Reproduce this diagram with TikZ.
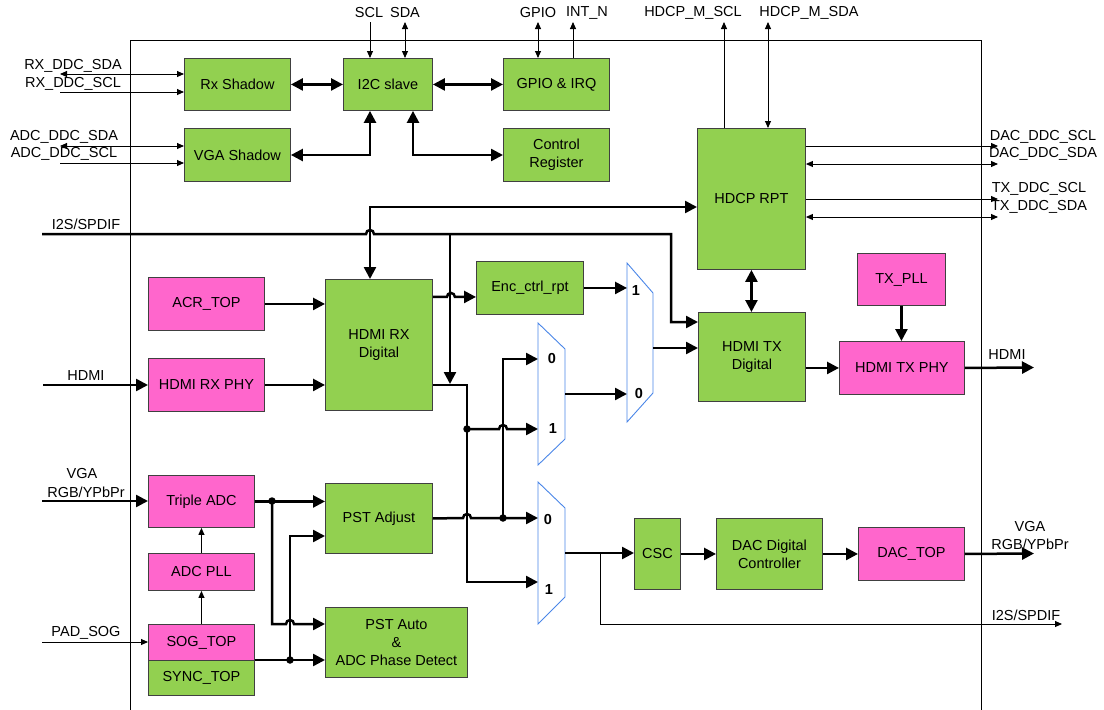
\documentclass[tikz,border=0pt]{standalone}
\usepackage{fontspec}
\setmainfont{Liberation Sans}
\usetikzlibrary{arrows.meta}
\definecolor{gr}{HTML}{92D050}
\definecolor{pk}{HTML}{FF66CC}
\definecolor{bd}{HTML}{404040}
\definecolor{mx}{HTML}{4A86E8}
\newcommand\fsz{\fontsize{14.5}{18}\selectfont}
\tikzset{
  tn/.tip={Triangle[length=7pt,width=6pt]},
  tk/.tip={Triangle[length=12pt,width=12pt]},
}
\newcommand\blkk[7]{\node[#2, minimum width={(#5-#3)*1pt}, minimum height={(#6-#4)*1pt}] (#1) at (#3,#4) {#7};}
\begin{document}
\begin{tikzpicture}[x=1pt,y=-1pt, font=\fsz,
  blk/.style={draw=bd, line width=0.9pt, inner sep=0pt, align=center, anchor=north west},
  gbox/.style={blk, fill=gr},
  pbox/.style={blk, fill=pk},
  thn/.style={line width=0.9pt},
  thk/.style={line width=2.5pt},
  mux/.style={draw=mx, line width=0.9pt, fill=white},
  lbl/.style={inner sep=0pt, align=center},
  jdot/.style={circle, fill=black, inner sep=0pt, minimum size=7.5pt},
  ml/.style={inner sep=0pt, font=\fsz\bfseries}
]
\useasboundingbox (0,0) rectangle (1104,710);

% frame
\draw[line width=1pt] (130,715) -- (130,40) -- (981,40) -- (981,715);

% blocks
\blkk{rxs}{gbox}{184}{58}{290}{110}{Rx Shadow}
\blkk{vgas}{gbox}{184}{128}{290}{181}{VGA Shadow}
\blkk{i2c}{gbox}{343}{58}{432}{110}{I2C slave}
\blkk{gpio}{gbox}{503}{58}{609}{110}{GPIO \& IRQ}
\blkk{ctrl}{gbox}{503}{128}{609}{181}{Control\\Register}
\blkk{hdcp}{gbox}{697}{128}{805}{269}{HDCP RPT}
\blkk{txpll}{pbox}{857}{253}{945}{305}{TX\_PLL}
\blkk{txphy}{pbox}{839}{341}{964}{394}{HDMI TX PHY}
\blkk{txd}{gbox}{698}{312}{805}{401}{HDMI TX\\Digital}
\blkk{enc}{gbox}{476}{261}{583}{314}{Enc\_ctrl\_rpt}
\blkk{rxd}{gbox}{325}{279}{432}{410}{HDMI RX\\Digital}
\blkk{acr}{pbox}{148}{277}{264}{330}{ACR\_TOP}
\blkk{rxphy}{pbox}{148}{358}{264}{411}{HDMI RX PHY}
\blkk{tadc}{pbox}{148}{475}{254}{527}{Triple ADC}
\blkk{adcpll}{pbox}{148}{553}{254}{590}{ADC PLL}
\blkk{sog}{pbox}{148}{624}{254}{660}{SOG\_TOP}
\blkk{sync}{gbox}{148}{660}{254}{695}{SYNC\_TOP}
\blkk{pstadj}{gbox}{325}{483}{432}{553}{PST Adjust}
\blkk{pstauto}{gbox}{325}{607}{467}{677}{PST Auto\\\&\\ADC Phase Detect}
\blkk{csc}{gbox}{634}{518}{680}{589}{CSC}
\blkk{dacdc}{gbox}{716}{518}{822}{589}{DAC Digital\\Controller}
\blkk{dactop}{pbox}{858}{527}{964}{580}{DAC\_TOP}

% muxes
\draw[mux] (538,323) -- (565,349) -- (565,439) -- (538,465) -- cycle;
\draw[mux] (627,263) -- (653,293) -- (653,393) -- (627,422) -- cycle;
\draw[mux] (538,482) -- (565,508) -- (565,597) -- (538,624) -- cycle;
\coordinate (mA0) at (538,359); \coordinate (mA1) at (538,429); \coordinate (mAo) at (565,394);
\coordinate (mB1) at (627,288); \coordinate (mB0) at (627,394); \coordinate (mBo) at (653,348);
\coordinate (mC0) at (538,518); \coordinate (mC1) at (538,582); \coordinate (mCo) at (565,553);
\node[ml] (lA0) at (552,359) {0}; \node[ml] (lA1) at (553,429) {1};
\node[ml] (lB1) at (636,291) {1}; \node[ml] (lB0) at (639,394) {0};
\node[ml] (lC0) at (548,520) {0}; \node[ml] (lC1) at (549,590) {1};

% left DDC
\coordinate (rxsdaL) at (60,74); \coordinate (rxsclL) at (60,92);
\coordinate (adcsdaL) at (60,146); \coordinate (adcsclL) at (60,163);
\draw[thn,tn-tn] (rxsdaL) -- (rxsdaL -| rxs.west);
\draw[thn,-tn] (rxsclL) -- (rxsclL -| rxs.west);
\draw[thn,tn-tn] (adcsdaL) -- (adcsdaL -| vgas.west);
\draw[thn,-tn] (adcsclL) -- (adcsclL -| vgas.west);
\node[lbl] (t1) at (73,66) {RX\_DDC\_SDA};
\node[lbl] (t2) at (73,84) {RX\_DDC\_SCL};
\node[lbl] (t3) at (64,137) {ADC\_DDC\_SDA};
\node[lbl] (t4) at (64,154) {ADC\_DDC\_SCL};

% top
\coordinate (sclT) at (370,22); \coordinate (sdaT) at (405,22);
\coordinate (gpioT) at (538,22); \coordinate (intT) at (573,22);
\coordinate (hmsclT) at (724,22); \coordinate (hmsdaT) at (768,22);
\draw[thn,-tn] (sclT) -- (sclT |- i2c.north);
\draw[thn,tn-tn] (sdaT) -- (sdaT |- i2c.north);
\draw[thn,tn-tn] (gpioT) -- (gpioT |- gpio.north);
\draw[thn,-tn] (intT |- gpio.north) -- (intT);
\draw[thn,-tn] (hmsclT |- hdcp.north) -- (hmsclT);
\draw[thn,tn-tn] (hmsdaT) -- (hmsdaT |- hdcp.north);
\node[lbl] (t5) at (369,13) {SCL};
\node[lbl] (t6) at (405,13) {SDA};
\node[lbl] (t7) at (538,13) {GPIO};
\node[lbl] (t8) at (587,13) {INT\_N};
\node[lbl] (t9) at (693,13) {HDCP\_M\_SCL};
\node[lbl] (t10) at (809,13) {HDCP\_M\_SDA};

% right DDC
\coordinate (dacsclR) at (998,146); \coordinate (dacsdaR) at (998,164);
\coordinate (txsclR) at (998,199); \coordinate (txsdaR) at (998,217);
\draw[thn,-tn] (dacsclR -| hdcp.east) -- (dacsclR);
\draw[thn,tn-tn] (dacsdaR -| hdcp.east) -- (dacsdaR);
\draw[thn,-tn] (txsclR -| hdcp.east) -- (txsclR);
\draw[thn,tn-tn] (txsdaR -| hdcp.east) -- (txsdaR);
\node[lbl] (t11) at (1043,137) {DAC\_DDC\_SCL};
\node[lbl] (t12) at (1043,154) {DAC\_DDC\_SDA};
\node[lbl] (t13) at (1039,189) {TX\_DDC\_SCL};
\node[lbl] (t14) at (1039,207) {TX\_DDC\_SDA};

% control bus
\draw[thk,tk-tk] (rxs.east) -- (i2c.west);
\draw[thk,tk-tk] (i2c.east) -- (gpio.west);
\coordinate (vgaup) at (370,155);
\draw[thk,tk-tk] (vgaup -| vgas.east) -- (vgaup) -- (vgaup |- i2c.south);
\coordinate (ctrlup) at (413,155);
\draw[thk,tk-tk] (ctrlup |- i2c.south) -- (ctrlup) -- (ctrlup -| ctrl.west);
\draw[thk,tk-tk] (hdcp.south) -- (hdcp.south |- txd.north);
\coordinate (hr) at (370,207);
\draw[thk,tk-tk] (hr |- rxd.north) -- (hr) -- (hr -| hdcp.west);

% I2S
\coordinate (i2sL) at (42,234); \coordinate (i2sR) at (671,234); \coordinate (i2sD) at (671,322);
\draw[thk,-tk] (i2sL) -- (366,234) arc[start angle=180,end angle=0,radius=4pt] -- (i2sR) -- (i2sD) -- (i2sD -| txd.west);
\coordinate (i2sB) at (450,234); \coordinate (rxo2) at (450,384);
\draw[thk,-tk] (i2sB) -- (rxo2);
\node[lbl] (t15) at (86,224) {I2S/SPDIF};

% HDMI RX side
\coordinate (encin) at ([yshift=-9pt]enc.west);
\draw[thk,-tk] (encin -| rxd.east) -- ++(14,0) arc[start angle=180,end angle=0,radius=4pt] -- (encin);
\draw[thk,-tk] (enc.east) -- (enc.east -| mB1);
\draw[thk,-tk] (acr.east) -- (acr.east -| rxd.west);
\draw[thk,-tk] (rxphy.east) -- (rxphy.east -| rxd.west);
\coordinate (hdmiL) at (43,385);
\draw[thk,-tk] (hdmiL) -- (hdmiL -| rxphy.west);
\node[lbl] (t16) at (86,376) {HDMI};

\coordinate (rxo) at (467,385); \coordinate (j1) at (467,429);
\draw[thk,-tk] (rxo -| rxd.east) -- (rxo) -- (rxo |- mC1) -- (mC1);
\draw[thk,-tk] (j1) -- (499,429) arc[start angle=180,end angle=0,radius=4pt] -- (mA1);
\node[jdot] (d1) at (j1) {};
\coordinate (j2) at (503,518);
\draw[thk,-tk] (j2) -- (j2 |- mA0) -- (mA0);
\draw[thk,-tk] (pstadj.east) -- (463,518) arc[start angle=180,end angle=0,radius=4pt] -- (mC0);
\node[jdot] (d2) at (j2) {};

\draw[thk,-tk] (mAo) -- (mB0);
\draw[thk,-tk] (mBo) -- (mBo -| txd.west);
\draw[thk,-tk] (txphy.west -| txd.east) -- (txphy.west);
\draw[thk,-tk] (txpll.south) -- (txpll.south |- txphy.north);
\coordinate (hdmiR) at (1034,367.5);
\draw[thk,-tk] (txphy.east) -- (hdmiR);
\node[lbl] (t17) at (1007,355) {HDMI};

% DAC path
\draw[thk,-tk] (mCo) -- (mCo -| csc.west);
\draw[thk,-tk] (csc.east) -- (dacdc.west);
\draw[thk,-tk] (dacdc.east) -- (dactop.west);
\coordinate (vgaR) at (1034,553.5);
\draw[thk,-tk] (dactop.east) -- (vgaR);
\node[lbl] (t18) at (1030,527) {VGA};
\node[lbl] (t19) at (1030,544) {RGB/YPbPr};
\coordinate (i2so) at (600,553); \coordinate (i2sOR) at (1062,624);
\draw[thn,-tn] (i2so) |- (i2sOR);
\node[lbl] (t20) at (1026,615) {I2S/SPDIF};

% VGA input side
\coordinate (vgaL) at (42,501);
\draw[thk,-tk] (vgaL) -- (vgaL -| tadc.west);
\node[lbl] (t21) at (82,474) {VGA};
\node[lbl] (t22) at (86,492) {RGB/YPbPr};
\draw[thk,-tk] (tadc.east) -- (tadc.east -| pstadj.west);
\coordinate (j3) at (272,501); \coordinate (j3d) at (272,624);
\draw[thk,-tk] (j3) -- (j3d) -- (286,624) arc[start angle=180,end angle=0,radius=4pt] -- (j3d -| pstauto.west);
\node[jdot] (d3) at (j3) {};
\coordinate (j4) at (290,660); \coordinate (j4u) at (290,536);
\draw[thk,-tk] (sync.north east) -- (sync.north east -| pstauto.west);
\draw[thk,-tk] (j4) -- (j4u) -- (j4u -| pstadj.west);
\node[jdot] (d4) at (j4) {};
\coordinate (sogL) at (42,642);
\draw[thn,-tn] (sogL) -- (sogL -| sog.west);
\node[lbl] (t23) at (86,633) {PAD\_SOG};
\draw[thn,-tn] (adcpll.north) -- (tadc.south);
\draw[thn,-tn] (sog.north) -- (adcpll.south);
\end{tikzpicture}
\end{document}
